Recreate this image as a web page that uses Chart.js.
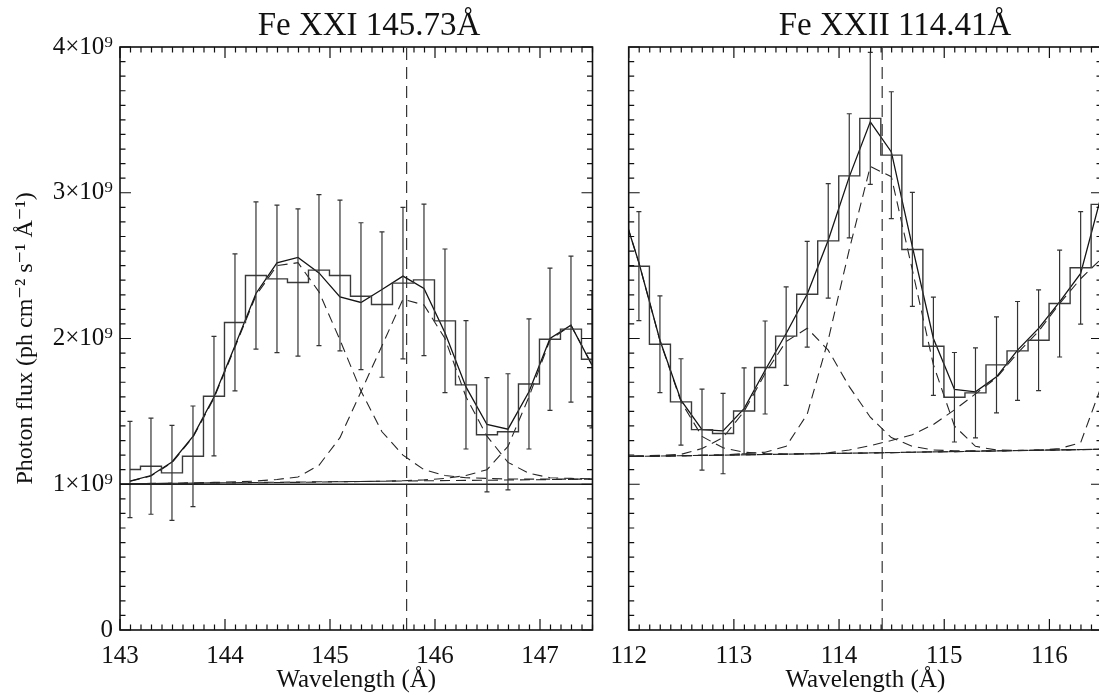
<!DOCTYPE html>
<html>
<head>
<meta charset="utf-8">
<title>Fe XXI / Fe XXII line fits</title>
<script src="https://cdn.jsdelivr.net/npm/chart.js@4.4.1/dist/chart.umd.min.js"></script>
<style>
    html, body { margin: 0; padding: 0; background: #fff; overflow: hidden; }
    #wrap { position: relative; width: 1099px; height: 695px; overflow: hidden; }
    #cl { position: absolute; left: 0; top: 0; }
    #cr { position: absolute; left: 605px; top: 0; }
</style>
<script>
    // flux values are in units of 1e9 ph cm-2 s-1 A-1

    // ---- left panel: Fe XXI 145.73 A
    const wavL  = [143.095, 143.295, 143.495, 143.695, 143.895, 144.095, 144.295, 144.495, 144.695, 144.895, 145.095, 145.295,
                   145.495, 145.695, 145.895, 146.095, 146.295, 146.495, 146.695, 146.895, 147.095, 147.295, 147.495];
    const fluxL = [1.101, 1.124, 1.078, 1.192, 1.604, 2.110, 2.432, 2.409, 2.384, 2.469, 2.432, 2.290,
                   2.233, 2.380, 2.402, 2.121, 1.682, 1.340, 1.360, 1.688, 1.995, 2.064, 1.858];
    const errL  = [0.330, 0.330, 0.326, 0.345, 0.410, 0.470, 0.505, 0.506, 0.505, 0.518, 0.517, 0.504,
                   0.499, 0.520, 0.520, 0.493, 0.440, 0.392, 0.398, 0.446, 0.488, 0.501, 0.471];
    const fitL  = [1.021, 1.060, 1.153, 1.329, 1.599, 1.950, 2.309, 2.519, 2.556, 2.450, 2.286, 2.247,
                   2.336, 2.428, 2.343, 2.040, 1.668, 1.410, 1.378, 1.634, 2.000, 2.091, 1.817];
    const compL1 = [1.020, 1.057, 1.148, 1.322, 1.590, 1.940, 2.295, 2.500, 2.520, 2.320, 1.990, 1.640,
                    1.360, 1.200, 1.100, 1.060, 1.045, 1.040, 1.036, 1.035, 1.035, 1.035, 1.035];
    const compL2 = [1.004, 1.006, 1.008, 1.010, 1.013, 1.016, 1.022, 1.033, 1.050, 1.130, 1.320, 1.635,
                    1.950, 2.270, 2.230, 2.000, 1.600, 1.330, 1.150, 1.075, 1.045, 1.040, 1.038];
    const compL3 = [1.003, 1.004, 1.005, 1.006, 1.008, 1.009, 1.010, 1.012, 1.013, 1.015, 1.017, 1.019,
                    1.021, 1.024, 1.030, 1.040, 1.060, 1.100, 1.260, 1.600, 1.990, 2.090, 1.820];
    const bgWavL = [143.0, 147.5];
    const bgL    = [1.003, 1.035];
    const refL   = [1.0, 1.0];
    const lineL  = 145.73;

    // ---- right panel: Fe XXII 114.41 A
    const wavR  = [111.897, 112.097, 112.297, 112.497, 112.697, 112.897, 113.097, 113.297, 113.497, 113.697, 113.897, 114.097,
                   114.297, 114.497, 114.697, 114.897, 115.097, 115.297, 115.497, 115.697, 115.897, 116.097, 116.297, 116.497];
    const fluxR = [2.850, 2.496, 1.961, 1.565, 1.375, 1.348, 1.503, 1.801, 2.016, 2.304, 2.670, 3.116,
                   3.510, 3.258, 2.611, 1.947, 1.597, 1.627, 1.819, 1.915, 1.988, 2.240, 2.485, 2.920];
    const errR  = [0.400, 0.374, 0.332, 0.296, 0.278, 0.276, 0.295, 0.319, 0.338, 0.363, 0.393, 0.426,
                   0.453, 0.435, 0.391, 0.337, 0.307, 0.309, 0.329, 0.339, 0.345, 0.367, 0.386, 0.420];
    const fitR  = [2.980, 2.520, 1.988, 1.577, 1.375, 1.366, 1.519, 1.782, 2.034, 2.304, 2.674, 3.109,
                   3.487, 3.280, 2.630, 2.000, 1.650, 1.634, 1.737, 1.920, 2.069, 2.251, 2.446, 2.990];
    const compR1 = [2.980, 2.520, 1.985, 1.567, 1.328, 1.250, 1.220, 1.210, 1.207, 1.209, 1.211, 1.213,
                    1.215, 1.217, 1.220, 1.222, 1.224, 1.226, 1.228, 1.231, 1.233, 1.235, 1.237, 1.239];
    const compR2 = [1.192, 1.195, 1.198, 1.205, 1.245, 1.320, 1.500, 1.760, 1.980, 2.070, 1.920, 1.670,
                    1.460, 1.320, 1.260, 1.235, 1.229, 1.229, 1.230, 1.232, 1.234, 1.236, 1.238, 1.240];
    const compR3 = [1.190, 1.192, 1.194, 1.196, 1.199, 1.201, 1.210, 1.220, 1.260, 1.480, 1.990, 2.610,
                    3.180, 3.110, 2.470, 1.820, 1.400, 1.260, 1.235, 1.233, 1.234, 1.236, 1.238, 1.240];
    const compR4 = [1.189, 1.191, 1.193, 1.195, 1.198, 1.200, 1.202, 1.204, 1.207, 1.210, 1.215, 1.235,
                    1.265, 1.300, 1.340, 1.410, 1.510, 1.620, 1.730, 1.900, 2.050, 2.240, 2.410, 2.550];
    const compR5 = [1.189, 1.191, 1.193, 1.195, 1.198, 1.200, 1.202, 1.204, 1.206, 1.209, 1.211, 1.213,
                    1.215, 1.217, 1.220, 1.222, 1.224, 1.226, 1.228, 1.231, 1.233, 1.245, 1.285, 1.680];
    const bgWavR = [112.0, 116.5];
    const bgR    = [1.190, 1.240];
    const lineR  = 114.41;

    const yMin = 0, yMax = 4;
    const serif = '"Liberation Serif", "DejaVu Serif", serif';

    function pts(xs, ys)
    {
        return xs.map((x, i) => ({ x: x, y: ys[i] }));
    }

    // error bars, inward tick marks, frame and panel title
    function panelPlugin(p)
    {
        return {
            id: 'panel',
            afterDatasetsDraw(chart) {
                const { ctx, chartArea: a, scales: { x, y } } = chart;
                ctx.save();
                ctx.beginPath();
                ctx.rect(a.left, a.top, a.width, a.height);
                ctx.clip();
                ctx.strokeStyle = '#333';
                ctx.lineWidth = 1.2;
                ctx.beginPath();
                p.wav.forEach((w, i) => {
                    if (w < x.min || w > x.max) return;
                    const px = x.getPixelForValue(w);
                    const lo = y.getPixelForValue(p.flux[i] - p.err[i]);
                    const hi = y.getPixelForValue(p.flux[i] + p.err[i]);
                    ctx.moveTo(px, lo); ctx.lineTo(px, hi);
                    ctx.moveTo(px - 2.5, lo); ctx.lineTo(px + 2.5, lo);
                    ctx.moveTo(px - 2.5, hi); ctx.lineTo(px + 2.5, hi);
                });
                ctx.stroke();
                ctx.restore();

                ctx.save();
                ctx.strokeStyle = '#111';
                ctx.lineWidth = 1.2;
                ctx.beginPath();
                for (let i = Math.ceil(x.min * 10 - 1e-6); i <= Math.floor(x.max * 10 + 1e-6); i++) {
                    const px = x.getPixelForValue(i / 10);
                    const len = i % 10 === 0 ? 11 : 5.5;
                    ctx.moveTo(px, a.bottom); ctx.lineTo(px, a.bottom - len);
                    ctx.moveTo(px, a.top); ctx.lineTo(px, a.top + len);
                }
                for (let i = Math.round(y.min * 10); i <= Math.round(y.max * 10); i++) {
                    const py = y.getPixelForValue(i / 10);
                    const len = i % 10 === 0 ? 11 : 5.5;
                    ctx.moveTo(a.left, py); ctx.lineTo(a.left + len, py);
                    ctx.moveTo(a.right, py); ctx.lineTo(a.right - len, py);
                }
                ctx.stroke();
                ctx.lineWidth = 1.6;
                ctx.strokeRect(a.left, a.top, a.width, a.height);

                ctx.fillStyle = '#111';
                ctx.font = '33px ' + serif;
                ctx.textAlign = 'center';
                ctx.textBaseline = 'alphabetic';
                ctx.fillText(p.title, p.titleX, 35);
                ctx.restore();
            }
        };
    }

    function makeChart(id, p)
    {
        const dashed = { borderColor: '#262626', borderWidth: 1.1, borderDash: [10, 6] };
        const datasets = [
            { data: pts(p.wav, p.flux), stepped: 'middle', borderColor: '#3a3a3a', borderWidth: 1.4 },
            { data: pts(p.wav, p.fit), borderColor: '#151515', borderWidth: 1.3 }
        ];
        for (const c of p.comps)
            datasets.push(Object.assign({ data: pts(p.wav, c) }, dashed));
        datasets.push(Object.assign({ data: pts(p.bgWav, p.bg) }, dashed));
        if (p.ref)
            datasets.push({ data: pts(p.bgWav, p.ref), borderColor: '#222', borderWidth: 1.3 });
        datasets.push({ data: pts([p.line, p.line], [yMin, yMax]), borderColor: '#222', borderWidth: 1.1, borderDash: [12, 7] });

        return new Chart(document.getElementById(id), {
            type: 'line',
            data: { datasets: datasets },
            options: {
                responsive: false,
                animation: false,
                layout: { padding: p.padding },
                elements: { point: { radius: 0 }, line: { tension: 0, fill: false } },
                plugins: { legend: { display: false }, tooltip: { enabled: false } },
                scales: {
                    x: {
                        type: 'linear',
                        position: 'bottom',
                        min: p.xMin,
                        max: p.xMax,
                        grid: { display: false, drawTicks: true, tickLength: 11 },
                        border: { display: false },
                        ticks: { stepSize: 1, includeBounds: false, autoSkip: false, maxRotation: 0, padding: 0,
                                 color: '#111', font: { family: serif, size: 25 } },
                        title: { display: true, text: 'Wavelength (Å)', color: '#111',
                                 font: { family: serif, size: 25 }, padding: { top: 0, bottom: 0 } },
                        afterFit: function(scale) { scale.height = 65; }
                    },
                    y: {
                        type: 'linear',
                        position: 'left',
                        display: p.showY,
                        min: yMin,
                        max: yMax,
                        grid: { display: false, drawTicks: false },
                        border: { display: false },
                        ticks: {
                            stepSize: 1, padding: 7, color: '#111', font: { family: serif, size: 25 },
                            callback: function(value) { return value === 0 ? '0' : value + '×10⁹'; }
                        },
                        title: { display: true, text: 'Photon flux (ph cm⁻² s⁻¹ Å⁻¹)', color: '#111',
                                 font: { family: serif, size: 24 }, padding: { top: 11, bottom: 0 } },
                        afterFit: function(scale) { scale.width = p.showY ? 120 : 0; }
                    }
                }
            },
            plugins: [panelPlugin(p)]
        });
    }

    function loaded()
    {
        makeChart('cl', {
            wav: wavL, flux: fluxL, err: errL, fit: fitL, comps: [compL1, compL2, compL3],
            bgWav: bgWavL, bg: bgL, ref: refL, line: lineL,
            xMin: 143, xMax: 147.5, showY: true,
            padding: { top: 47, left: 0, right: 12.5, bottom: 0 },
            title: 'Fe XXI 145.73Å', titleX: 369
        });
        makeChart('cr', {
            wav: wavR, flux: fluxR, err: errR, fit: fitR, comps: [compR1, compR2, compR3, compR4, compR5],
            bgWav: bgWavR, bg: bgR, ref: null, line: lineR,
            xMin: 112, xMax: 116.5, showY: false,
            padding: { top: 47, left: 23.7, right: 3, bottom: 0 },
            title: 'Fe XXII 114.41Å', titleX: 290
        });
    }

    window.addEventListener('load', loaded, true);
</script>
</head>
<body>
<div id="wrap">
    <canvas id="cl" width="605" height="695"></canvas>
    <canvas id="cr" width="500" height="695"></canvas>
</div>
</body>
</html>
